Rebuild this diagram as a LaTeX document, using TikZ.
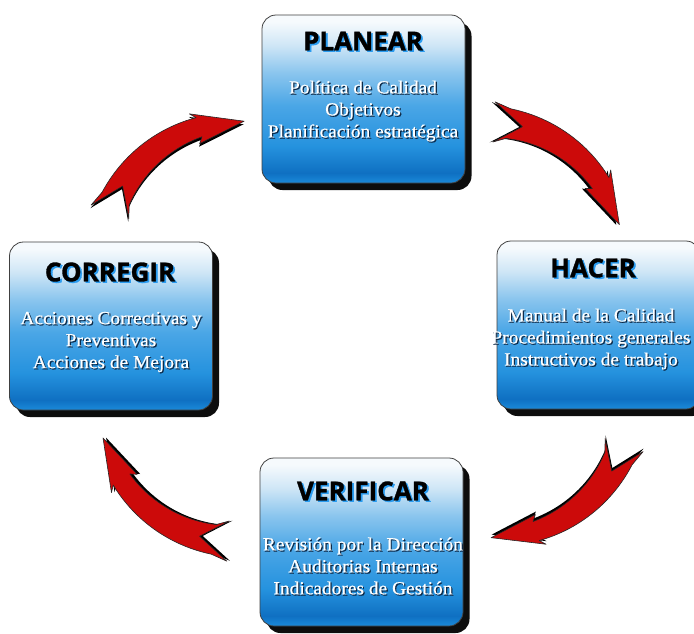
\documentclass[tikz,border=0pt]{standalone}
\usepackage{fontspec}
\newfontfamily\titlefont{Open Sans}[BoldFeatures={FakeBold=1.2}]
\newfontfamily\bodyfont{Liberation Serif}[FakeStretch=1.05, FakeBold=0.5]
\usetikzlibrary{shadows}

% box gradient colours (bottom to top)
\definecolor{bxA}{HTML}{1A8ADA}
\definecolor{bxB}{HTML}{0F70C2}
\definecolor{bxC}{HTML}{2592DE}
\definecolor{bxD}{HTML}{4AA6E6}
\definecolor{bxE}{HTML}{8CC6EE}
\definecolor{bxF}{HTML}{CFE6F6}
\definecolor{bxG}{HTML}{F6FAFD}
\definecolor{arrowred}{HTML}{CC0A0A}
\definecolor{titleglow}{HTML}{2A9CF0}
\definecolor{bodyshade}{HTML}{0E2A48}

\pgfdeclareverticalshading{boxshade}{100bp}{%
  color(0bp)=(bxA); color(25bp)=(bxA); color(28bp)=(bxB); color(36bp)=(bxC);
  color(48bp)=(bxD); color(58bp)=(bxE); color(66bp)=(bxF); color(73bp)=(bxG);
  color(75bp)=(bxG); color(100bp)=(bxG)}

% outline of one curved red arrow, drawn around the centre of its arc
\newcommand\arrowoutline{%
  (126:158) -- (120:152.8)
  -- plot[domain=120:73,samples=24] (\x:{147.8+5*(\x-73)/47})
  -- (75:153.5) -- (54:137.8) -- (75:122) -- (73:127.8)
  -- plot[domain=73:120,samples=24] (\x:{127.8-5*(\x-73)/47})
  -- (126:117.8) -- (114:137.8) -- cycle}

% #1,#2: tail centre, #3: direction of the chord from tail to tip
\newcommand\pdcaarrow[3]{%
  \begin{scope}[shift={(#1,#2)}, rotate=#3, yscale=-1]
    \begin{scope}[shift={(81,-111.5)}]
      \begin{scope}[shift={(-2.2,-2.2)}]
        \fill[black] \arrowoutline;
      \end{scope}
      \filldraw[arrowbody] \arrowoutline;
    \end{scope}
  \end{scope}}

\newcommand\pdcatitle[4]{%
  \node[titletext, text=titleglow] (#1-glow) at ({#2+1.8},{#3+1.5}) {#4};
  \node[titletext] (#1) at (#2,#3) {#4};}

\newcommand\pdcabody[4]{%
  \node[bodytext, text=bodyshade] (#1-shadow) at ({#2+1.2},{#3+1.2}) {#4};
  \node[bodytext] (#1) at (#2,#3) {#4};}

\begin{document}
\begin{tikzpicture}[x=1pt, y=-1pt,
  pdcabox/.style={rounded corners=14pt, minimum width=203pt, minimum height=168pt,
    draw=black!75, line width=0.8pt, shading=boxshade, inner sep=0pt,
    drop shadow={shadow xshift=6.5pt, shadow yshift=-7pt, fill=black, opacity=0.95}},
  titletext/.style={font=\titlefont\bfseries\fontsize{26}{30}\selectfont, text=black, inner sep=0pt},
  bodytext/.style={font=\bodyfont\fontsize{18.5}{22}\selectfont, text=white, align=center, inner sep=0pt},
  arrowbody/.style={fill=arrowred, draw=black!85, line width=0.6pt, line join=round}]

\useasboundingbox (0,0) rectangle (694,633);
\clip (0,0) rectangle (694,633);
\fill[white] (0,0) rectangle (694,633);

% the four stages
\node[pdcabox] (planbox) at (363.5,99) {};
\node[pdcabox] (hacerbox) at (598.5,325) {};
\node[pdcabox] (corrbox) at (111,326) {};
\node[pdcabox] (verifbox) at (361.5,542) {};

\pdcatitle{plantitle}{363}{41}{PLANEAR}
\pdcabody{planbody}{363}{111}{Política de Calidad\\Objetivos\\Planificación estratégica}

\pdcatitle{hacertitle}{593}{268}{HACER}
\pdcabody{hacerbody}{591}{339}{Manual de la Calidad\\Procedimientos generales\\Instructivos de trabajo}

\pdcatitle{corrtitle}{110}{272}{CORREGIR}
\pdcabody{corrbody}{111}{342}{Acciones Correctivas y\\Preventivas\\Acciones de Mejora}

\pdcatitle{veriftitle}{363}{491}{VERIFICAR}
\pdcabody{verifbody}{363}{566}{Revisión por la Dirección\\Auditorias Internas\\Indicadores de Gestión}

% the cycle arrows
\pdcaarrow{494}{122}{-39.3}
\pdcaarrow{624}{445}{-145.1}
\pdcaarrow{228}{541}{140.5}
\pdcaarrow{110}{212}{34.1}

\end{tikzpicture}
\end{document}
